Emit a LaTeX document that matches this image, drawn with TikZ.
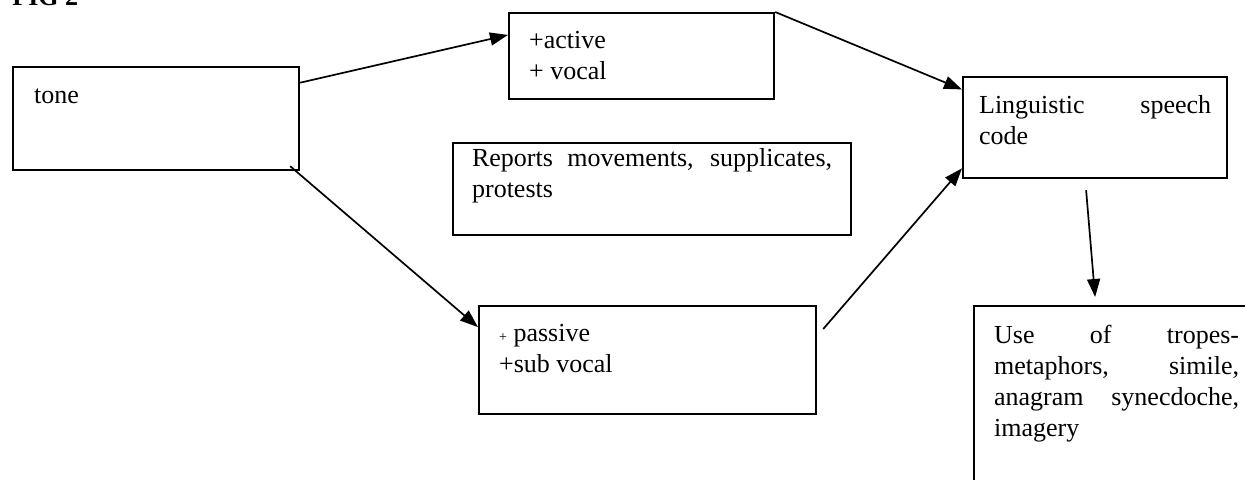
\documentclass[tikz,border=0pt]{standalone}
\usepackage{fontspec}
\setmainfont{Liberation Serif}
\usetikzlibrary{arrows.meta,positioning}

\newcommand{\cardtext}[3]{\parbox[c][#2][t]{#1}{\strut#3}}

\begin{document}
\begin{tikzpicture}[x=0.5pt,y=-0.5pt,
    card/.style={draw,line width=1.1pt,anchor=north west,inner xsep=10pt,inner ysep=7.2pt,font=\fontsize{13}{15.5}\selectfont},
    link/.style={-{Triangle[length=9pt,width=6.5pt]},line width=0.85pt}]
  \useasboundingbox (0,0) rectangle (1245,479);
  \node[anchor=base west,inner sep=0pt,font=\fontsize{13}{15.5}\selectfont\bfseries] (fig) at (12,5) {FIG 2};
  % boxes
  \node[card,inner xsep=10.5pt] (tone) at (12,66) {\cardtext{122pt}{37.1pt}{tone}};
  \node[card,inner ysep=6.65pt] (active) at (508,12) {\cardtext{112.5pt}{29.7pt}{+active\\+ vocal}};
  \node[card,inner xsep=8pt] (ling) at (962,76) {\cardtext{116pt}{36.1pt}{Linguistic speech\linebreak code}};
  \node[card,inner xsep=9.5pt,inner ysep=0.65pt] (reports) at (452,142) {\cardtext{180pt}{44.7pt}{Reports movements, supplicates,\linebreak protests}};
  \node[card,inner ysep=6.65pt] (passive) at (478,305) {\cardtext{148.5pt}{40.7pt}{{\fontsize{7}{8}\selectfont+} passive\\+sub vocal}};
  \node[card,inner ysep=7.65pt] (tropes) at (973,305) {\cardtext{122.5pt}{104.7pt}{Use of tropes-\linebreak metaphors, simile,\linebreak anagram synecdoche,\linebreak imagery}};
  % arrows
  \draw[link] (tone.14) -- (active.171);
  \draw[link] ([shift={(-10,-5)}]tone.south east) -- (passive.169);
  \draw[link] (active.north east) -- (ling.164);
  \draw[link] ([shift={(6,24)}]passive.north east) -- (ling.197);
  \draw[link] ([shift={(-9,11)}]ling.south) -- ([shift={(-21.5,-8)}]tropes.north);
\end{tikzpicture}
\end{document}
